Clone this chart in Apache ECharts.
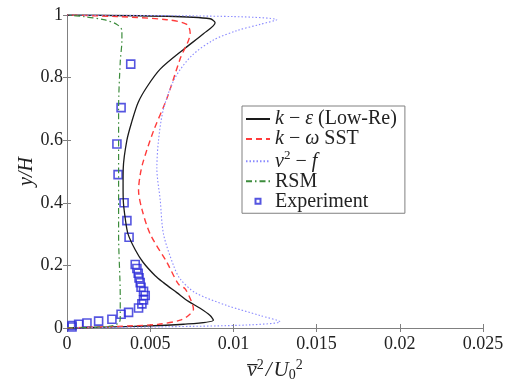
<!DOCTYPE html>
<html><head><meta charset="utf-8">
<script src="https://cdn.jsdelivr.net/npm/echarts@6/dist/echarts.min.js"></script>
<style>html,body{margin:0;padding:0;background:#fff}#c{width:515px;height:387px}</style>
</head><body><div id="c"></div>
<script>
// tick labels
var xTicks = [0, 0.005, 0.01, 0.015, 0.02, 0.025];
var yTicks = [0, 0.2, 0.4, 0.6, 0.8, 1];
// series names
var names = ['k-eps', 'k-omega', 'v2f', 'RSM', 'Experiment'];
// k-epsilon (Low-Re): [x, y]
var kEps = [[0,0],[0.004,0.005],[0.007,0.012],[0.0088,0.025],[0.0086,0.04],[0.008,0.063],[0.0073,0.085],[0.0066,0.113],[0.0058,0.145],[0.0053,0.167],[0.00457,0.21],[0.0041,0.25],[0.00367,0.30],[0.0035,0.35],[0.00338,0.41],[0.00337,0.46],[0.00338,0.51],[0.0036,0.6],[0.0039,0.66],[0.00427,0.72],[0.0048,0.77],[0.0056,0.827],[0.007,0.89],[0.0082,0.94],[0.0089,0.975],[0.0086,0.988],[0.006,0.996],[0,1]];
// k-omega SST
var kOmega = [[0,0],[0.003,0.005],[0.0055,0.012],[0.0068,0.025],[0.0073,0.04],[0.0076,0.06],[0.0075,0.082],[0.0071,0.125],[0.0067,0.14],[0.006,0.21],[0.005,0.30],[0.0045,0.38],[0.0043,0.44],[0.0044,0.49],[0.00457,0.53],[0.0052,0.63],[0.006,0.733],[0.0068,0.86],[0.0074,0.943],[0.0072,0.97],[0.006,0.985],[0.003,0.995],[0,1]];
// v2-f
var v2f = [[0,0],[0.006,0.004],[0.011,0.01],[0.0128,0.02],[0.0116,0.04],[0.0096,0.072],[0.0077,0.113],[0.0068,0.157],[0.0064,0.2],[0.0058,0.30],[0.0056,0.41],[0.0054,0.51],[0.0055,0.6],[0.0058,0.7],[0.0065,0.8],[0.0075,0.87],[0.0088,0.92],[0.0102,0.95],[0.0116,0.97],[0.0126,0.985],[0.01,0.995],[0,1]];
// RSM
var rsm = [[0,0],[0.0025,0.005],[0.0031,0.015],[0.0032,0.03],[0.0032,0.1],[0.0031,0.3],[0.0031,0.5],[0.0031,0.7],[0.0032,0.85],[0.0033,0.92],[0.0033,0.95],[0.003,0.97],[0.0022,0.985],[0.001,0.995],[0,1]];
// Experiment
var expData = [[0.00383,0.843],[0.00325,0.704],[0.0030,0.588],[0.00307,0.49],[0.00343,0.40],[0.0036,0.343],[0.00373,0.29],[0.0041,0.203],[0.0042,0.19],[0.00428,0.175],[0.00433,0.16],[0.0044,0.145],[0.00445,0.13],[0.0046,0.117],[0.0047,0.104],[0.0046,0.09],[0.0045,0.077],[0.0043,0.064],[0.0037,0.05],[0.00325,0.044],[0.0027,0.028],[0.0019,0.022],[0.0012,0.016],[0.0007,0.012],[0.0003,0.008],[0.0003,0.003]];

var serif = 'Liberation Serif';
var chart = echarts.init(document.getElementById('c'));
var axisLineStyle = {color: '#808080', width: 1};
var labelsMap = {
  'k-eps': '{i|k} − {i|ε} (Low-Re)',
  'k-omega': '{i|k} − {i|ω} SST',
  'v2f': '{i|v}{s|2} − {i|f}',
  'RSM': 'RSM',
  'Experiment': 'Experiment'
};
var LF = 20, LH = 19.5;
var rich = {
  i: {fontFamily: serif, fontStyle: 'italic', fontSize: LF, lineHeight: LH, color: '#222'},
  s: {fontFamily: serif, fontSize: 13, lineHeight: LH, color: '#222', verticalAlign: 'bottom', padding: [0,0,9,0]}
};
var hidden = {opacity: 0};
chart.setOption({
  animation: false,
  grid: {left: 67, right: 32, top: 15, bottom: 54},
  legend: {
    orient: 'vertical', left: 242, top: 106,
    itemWidth: 24, itemHeight: 10, itemGap: 0,
    padding: [3, 8, 2, 3],
    borderColor: '#808080', borderWidth: 1, backgroundColor: '#fff',
    data: [
      {name: names[0], itemStyle: hidden},
      {name: names[1], itemStyle: hidden},
      {name: names[2], itemStyle: hidden},
      {name: names[3], itemStyle: hidden},
      {name: names[4], icon: 'path://M0,0L0,0M24,10L24,10M9.5,2.5h5v5h-5z'}
    ],
    formatter: function (n) { return labelsMap[n]; },
    textStyle: {fontFamily: serif, fontSize: LF, lineHeight: LH, color: '#222', rich: rich}
  },
  xAxis: [{
    type: 'value', min: xTicks[0], max: xTicks[xTicks.length-1], interval: 0.005,
    axisLine: {show: true, lineStyle: axisLineStyle},
    axisTick: {show: true, inside: true, length: 4, lineStyle: axisLineStyle},
    splitLine: {show: false},
    axisLabel: {fontFamily: serif, fontSize: 18, color: '#222', margin: 7,
      formatter: function (v) { return String(+v.toFixed(4)); }},
    name: '{o|v\u0305}{s|2}{n|/}{i|U}{b|0}{s|2}',
    nameLocation: 'middle', nameGap: 30, nameMoveOverlap: false,
    nameTextStyle: {fontFamily: serif, fontSize: 20, color: '#222', rich: {
      o: {fontFamily: serif, fontStyle: 'italic', fontSize: 21, color: '#222'},
      i: {fontFamily: serif, fontStyle: 'italic', fontSize: 21, color: '#222'},
      n: {fontFamily: serif, fontStyle: 'italic', fontSize: 21, color: '#222', padding: [0,2,0,2]},
      s: {fontFamily: serif, fontSize: 14, color: '#222', verticalAlign: 'bottom', padding: [0,0,10,0]},
      b: {fontFamily: serif, fontSize: 14, color: '#222', verticalAlign: 'top', padding: [10,0,0,0]}
    }}
  }, {
    type: 'value', position: 'top', min: xTicks[0], max: xTicks[xTicks.length-1], interval: 0.005,
    axisLine: {show: true, lineStyle: axisLineStyle},
    axisTick: {show: true, inside: true, length: 4, lineStyle: axisLineStyle},
    axisLabel: {show: false}, splitLine: {show: false}
  }],
  yAxis: [{
    type: 'value', min: yTicks[0], max: yTicks[yTicks.length-1], interval: 0.2,
    axisLine: {show: true, lineStyle: axisLineStyle},
    axisTick: {show: true, inside: true, length: 4, lineStyle: axisLineStyle},
    splitLine: {show: false},
    axisLabel: {fontFamily: serif, fontSize: 18, color: '#222', margin: 4,
      formatter: function (v) { return String(+v.toFixed(2)); }},
    name: 'y/H', nameLocation: 'middle', nameGap: 30, nameRotate: 90, nameMoveOverlap: false,
    nameTextStyle: {fontFamily: serif, fontStyle: 'italic', fontSize: 20, color: '#222'}
  }, {
    type: 'value', position: 'right', min: yTicks[0], max: yTicks[yTicks.length-1], interval: 0.2,
    axisLine: {show: true, lineStyle: axisLineStyle},
    axisTick: {show: true, inside: true, length: 4, lineStyle: axisLineStyle},
    axisLabel: {show: false}, splitLine: {show: false}
  }],
  series: [
    {name: names[0], type: 'line', data: kEps, symbol: 'none', smooth: 0.3,
     lineStyle: {color: '#1a1a1a', width: 1.3}, itemStyle: {color: '#1a1a1a'}},
    {name: names[1], type: 'line', data: kOmega, symbol: 'none', smooth: 0.3,
     lineStyle: {color: '#ff3b3b', width: 1.4, type: [6, 4]}, itemStyle: {color: '#ff3b3b'}},
    {name: names[2], type: 'line', data: v2f, symbol: 'none', smooth: 0.3,
     lineStyle: {color: '#8a8aff', width: 1.1, type: [1.5, 2]}, itemStyle: {color: '#8a8aff'}},
    {name: names[3], type: 'line', data: rsm, symbol: 'none', smooth: 0.3,
     lineStyle: {color: '#3c8c3c', width: 1.2, type: [6, 3, 1.5, 3]}, itemStyle: {color: '#3c8c3c'}},
    {name: names[4], type: 'scatter', data: expData, symbol: 'rect', symbolSize: 8,
     itemStyle: {color: 'rgba(255,255,255,0)', borderColor: '#2a2ad8', borderWidth: 1.6}}
  ]
});
</script></body></html>
